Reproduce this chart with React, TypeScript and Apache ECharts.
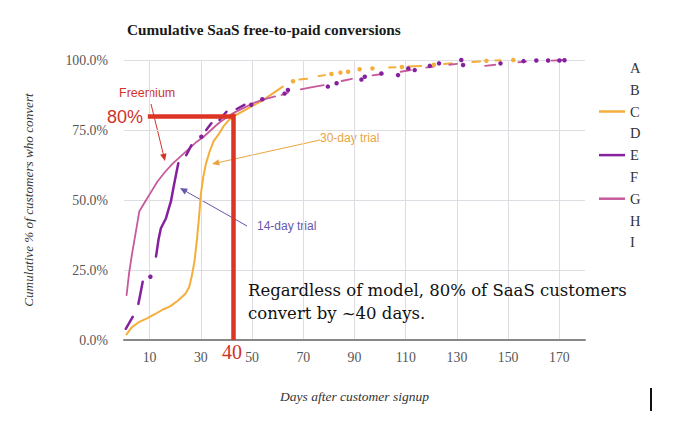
import React, { useEffect, useRef } from 'react';
import * as echarts from 'echarts';

const legendNames = ['A', 'B', 'C', 'D', 'E', 'F', 'G', 'H', 'I'];
const xTickLabels = [10, 30, 50, 70, 90, 110, 130, 150, 170];
const yTickLabels = ['0.0%', '25.0%', '50.0%', '75.0%', '100.0%'];

const _ = null; // gap in a line (break)

// [day, cumulative %, isolated dot flag]
const trial30C: any[] = [
  [1, 2], [3, 4.5], [6, 6.5], [9, 7.7], [12, 9.2], [15, 10.8], [18, 12], [21, 14], [24, 16.5],
  [25.5, 19], [26.5, 23], [27.5, 28], [28.5, 36], [29.3, 44], [30, 52], [31, 58.5], [32, 63],
  [33.5, 67.5], [35, 71], [37, 73.5], [39, 76.5], [41, 78.6], [43, 80], [46, 81.5], [50, 83.5],
  [54, 85.5], [58, 88], [62, 90.5], _, [66, 92.4, 1], _, [68.5, 93], [71.5, 93.3], _,
  [76, 94.3], [78.5, 94.6], _, [81, 95, 1], _, [84.5, 95.5, 1], _, [87.5, 95.8, 1], _,
  [92, 96.7, 1], _, [97, 97, 1], _, [103.5, 97.3], [106, 97.4], _, [108.5, 97.5, 1], _,
  [111, 97.7], [116, 97.9], _, [121, 98.3, 1], _, [125, 98.6], [128, 98.8], _,
  [136, 99.3], [139, 99.5], _, [141.5, 99.7, 1], _, [145, 99.8], [147, 99.9], _, [152, 100, 1],
];

const trial14E: any[] = [
  [0.7, 4], [3.4, 8.3], _, [5.6, 12.9], [6.5, 17], [7.3, 20.8], _, [10.3, 22.6, 1], _,
  [12.5, 29.8], [13.5, 36], [14.4, 39.9], [16.4, 43.5], [17.5, 47], [18.3, 49.4], [19.4, 54.8],
  [20.3, 59], [21.2, 63.1], _, [24.3, 66], [26.3, 69.5], _, [30.2, 72.6, 1], _,
  [32.1, 75], [34.1, 77.4], _, [37.3, 78.6], [40, 81.5], _, [44, 82.5], [47, 84], _,
  [49.7, 84, 1], _, [54, 86, 1], _, [62.7, 88, 1], _, [64, 89.3, 1], _, [79.6, 90.5, 1], _,
  [83, 91.7, 1], _, [92.7, 93, 1], _, [94, 94, 1], _, [100.5, 95.2, 1], _, [107, 94.6, 1], _,
  [111, 97, 1], _, [113.5, 96.4, 1], _, [119.4, 97.9, 1], _, [123, 98.8, 1], _,
  [131.7, 100, 1], _, [132.4, 98.2, 1], _, [147, 98.8, 1], _, [156, 99.6, 1], _,
  [161, 99.8, 1], _, [165.6, 99.8, 1], _, [170, 99.8, 1], _, [172, 99.9, 1],
];

const freemiumG: any[] = [
  [1, 16], [2, 24], [3, 30], [4.5, 38], [6, 46], [8, 49], [10, 52], [13, 56.5], [16, 60],
  [19, 63], [22, 65.5], [25, 68], [28, 70.5], [31, 72.5], [34, 75], [37, 77.5], [40, 79.5],
  [43, 81.2], [47, 83], [51, 84.8], [55, 86], [59, 87], _, [61.5, 87.5], [64, 88.3], _,
  [69, 89.5], [73, 90.2], [78, 91], _, [85, 92.5], [89, 93.3], _, [97, 94.5], [101, 95], _,
  [108, 95.8], [112, 96.4], _, [118, 97.3], [121, 97.6], _, [127, 98.3], [130, 98.6], _,
  [141, 97.9], [145, 98.3], _, [154, 99.2], [157, 99.4], _, [167, 99.8], [172, 100],
];

const highlightPct = 80;
const highlightDay = 42.8;

const seriesData: Record<string, any[]> = { C: trial30C, E: trial14E, G: freemiumG };
const seriesColors: Record<string, string> = { C: '#F3AE3C', E: '#85219F', G: '#C65A9B' };
const seriesWidths: Record<string, number> = { C: 2, E: 2.5, G: 1.8 };

const prep = (arr: any[]) => arr.map((p) => (p === null ? ['-', '-'] : p));

function arrow(x1: number, y1: number, x2: number, y2: number, color: string, width = 1, head = 7) {
  const a = Math.atan2(y2 - y1, x2 - x1);
  const s = 0.42;
  const p1 = [x2 - head * Math.cos(a - s), y2 - head * Math.sin(a - s)];
  const p2 = [x2 - head * Math.cos(a + s), y2 - head * Math.sin(a + s)];
  return [
    { type: 'line', shape: { x1, y1, x2: x2 - 3 * Math.cos(a), y2: y2 - 3 * Math.sin(a) }, style: { stroke: color, lineWidth: width } },
    { type: 'polygon', shape: { points: [[x2, y2], p1, p2] }, style: { fill: color } },
  ];
}

export default function App() {
  const ref = useRef<HTMLDivElement>(null);
  useEffect(() => {
    const chart = echarts.init(ref.current!, null, { renderer: 'svg' });
    const serif = '"Liberation Serif", "Times New Roman", serif';
    const sans = '"Liberation Sans", Arial, sans-serif';

    const series: any[] = legendNames.map((n) => ({
      name: n,
      type: 'line',
      data: seriesData[n] ? prep(seriesData[n]) : [],
      color: seriesColors[n] || 'rgba(0,0,0,0)',
      showSymbol: true,
      symbol: 'circle',
      symbolSize: (v: any) => (v && v[2] ? 4.5 : 0),
      connectNulls: false,
      lineStyle: { width: seriesWidths[n] || 2, cap: 'round' },
      z: n === 'E' ? 4 : 3,
      silent: true,
    }));

    series.push({
      name: 'annotation',
      type: 'line',
      data: [],
      silent: true,
      z: 6,
      markLine: {
        silent: true,
        symbol: 'none',
        animation: false,
        label: { show: false },
        lineStyle: { color: '#DD3426', width: 4.5, type: 'solid' },
        data: [
          [{ coord: [9.3, highlightPct] }, { coord: [highlightDay, highlightPct] }],
          [{ coord: [highlightDay, highlightPct + 0.8] }, { coord: [highlightDay, 0] }],
        ],
      },
    });

    chart.setOption({
      animation: false,
      backgroundColor: '#ffffff',
      title: {
        text: 'Cumulative SaaS free-to-paid conversions',
        left: 122,
        top: 17,
        textStyle: { fontFamily: serif, fontWeight: 'bold', fontSize: 15.3, color: '#1a1a1a' },
      },
      grid: { left: 124, right: 95, top: 60, bottom: 82 },
      legend: {
        orient: 'vertical',
        left: 594,
        top: 52,
        itemWidth: 26,
        itemHeight: 2.5,
        itemGap: 0,
        icon: 'rect',
        selectedMode: false,
        data: legendNames,
        textStyle: { fontFamily: serif, fontSize: 14.5, color: '#333', lineHeight: 21.8 },
      },
      xAxis: {
        type: 'value',
        min: 0,
        max: 180,
        interval: 10,
        name: 'Days after customer signup',
        nameLocation: 'middle',
        nameGap: 49,
        nameTextStyle: { fontFamily: serif, fontStyle: 'italic', fontSize: 13.5, color: '#333' },
        axisLine: { show: true, lineStyle: { color: '#888', width: 2 } },
        axisTick: { show: false },
        axisLabel: {
          formatter: (v: number) => (xTickLabels.includes(v) ? String(v) : ''),
          fontFamily: serif,
          fontSize: 13.8,
          color: '#555',
          margin: 10,
        },
        splitLine: { show: true, lineStyle: { color: ['rgba(0,0,0,0)', '#dedde3'], width: 1 } },
      },
      yAxis: {
        type: 'value',
        min: 0,
        max: 100,
        interval: 25,
        name: 'Cumulative % of customers who convert',
        nameLocation: 'middle',
        nameGap: 89,
        nameTextStyle: { fontFamily: serif, fontStyle: 'italic', fontSize: 13.2, color: '#333' },
        axisLine: { show: false },
        axisTick: { show: false },
        axisLabel: {
          formatter: (v: number) => yTickLabels[Math.round(v / 25)],
          fontFamily: serif,
          fontSize: 13.8,
          color: '#555',
          margin: 16,
        },
        splitLine: { show: true, lineStyle: { color: '#dedde3', width: 1 } },
      },
      series,
      graphic: [
        { type: 'text', left: 119, top: 86, style: { text: 'Freemium', fontFamily: sans, fontSize: 12.5, fill: '#D0342A' } },
        { type: 'text', left: 107, top: 108, style: { text: '80%', fontFamily: sans, fontSize: 18, fill: '#D0342A' } },
        { type: 'text', left: 222, top: 342, style: { text: '40', fontFamily: serif, fontSize: 20, fill: '#D0342A' } },
        ...arrow(151, 104, 165, 161, '#D0342A', 1, 8),
        { type: 'text', left: 320, top: 132, style: { text: '30-day trial', fontFamily: sans, fontSize: 12, fill: '#E9A440' } },
        ...arrow(320, 140, 212, 164, '#E9A440', 1, 8),
        { type: 'text', left: 257, top: 220, style: { text: '14-day trial', fontFamily: sans, fontSize: 12, fill: '#6757AE' } },
        ...arrow(247, 226, 180, 188, '#6757AE', 1, 8),
        {
          type: 'text',
          left: 248,
          top: 279,
          z: 10,
          style: {
            text: 'Regardless of model, 80% of SaaS customers\nconvert by ~40 days.',
            fontFamily: '"DejaVu Serif", serif',
            fontSize: 16.5,
            lineHeight: 23,
            fill: '#111',
          },
        },
        { type: 'rect', shape: { x: 650, y: 388, width: 2, height: 23 }, style: { fill: '#111' } },
      ],
    });
    return () => chart.dispose();
  }, []);
  return <div ref={ref} style={{ position: 'absolute', left: 0, top: 0, width: 680, height: 422 }} />;
}
